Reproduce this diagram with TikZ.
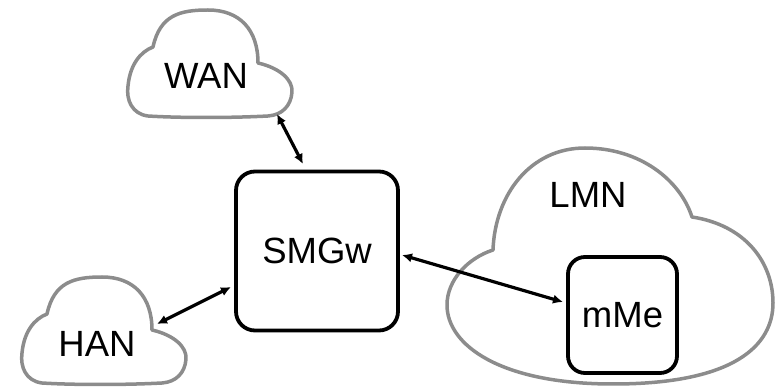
\documentclass[tikz,border=0pt]{standalone}
\usepackage{fontspec}
\setmainfont{Liberation Sans}
\usetikzlibrary{arrows.meta}

\definecolor{cloudgray}{RGB}{140,140,140}

\tikzset{
  cloudline/.style={draw=cloudgray, line width=3.5pt, fill=white, line join=round},
  devbox/.style={draw=black, line width=3.8pt, rounded corners=19pt, fill=white,
    inner sep=0pt, font=\fontsize{36.5pt}{40pt}\selectfont},
  label/.style={inner sep=0pt, font=\fontsize{36.5pt}{40pt}\selectfont},
  link/.style={line width=3.2pt, {Latex[length=10pt,width=9.5pt]}-{Latex[length=10pt,width=9.5pt]}},
  smallcloud/.pic={
    \path[cloudline] (25,37)
      .. controls (32,5) and (52,0) .. (80,0)
      .. controls (112,0) and (130,20) .. (130,53)
      .. controls (152,58) and (165,70) .. (164,82)
      .. controls (163,96) and (154,105) .. (140,106)
      .. controls (102,108) and (52,108) .. (20,106)
      .. controls (4,104) and (-2,90) .. (0,76)
      .. controls (2,55) and (12,42) .. (25,37) -- cycle;
  }
}

\begin{document}
\begin{tikzpicture}[x=1pt, y=-1pt]
  \useasboundingbox (0,0) rectangle (780,387);

  % wide area and home area networks
  \pic at (128,10) {smallcloud};
  \pic at (22,277) {smallcloud};
  \node[label] (wan) at (206,76) {WAN};
  \node[label] (han) at (97,344) {HAN};

  % local metrological network
  \path[cloudline] (493,250)
    .. controls (495,195) and (530,148) .. (585,148)
    .. controls (640,148) and (680,180) .. (692,217)
    .. controls (745,225) and (773,262) .. (773,303)
    .. controls (773,345) and (735,384) .. (613,384)
    .. controls (500,384) and (447,345) .. (447,305)
    .. controls (447,280) and (468,258) .. (493,250) -- cycle;
  \node[label] (lmn) at (588,195) {LMN};

  % devices
  \node[devbox, minimum width=162pt, minimum height=159pt] (smgw) at (317,251) {SMGw};
  \node[devbox, rounded corners=17pt, minimum width=109pt, minimum height=116pt] (mme) at (622.5,315) {mMe};

  % connector end points next to the clouds and boxes
  \coordinate (wanend) at (277,114);
  \coordinate (smgwtop) at (303,164);
  \coordinate (hanend) at (157,324);
  \coordinate (smgwleft) at (231,287);
  \coordinate (smgwright) at (402,255);
  \coordinate (mmeleft) at (563,302);

  \draw[link] (wanend) -- (smgwtop);
  \draw[link] (hanend) -- (smgwleft);
  \draw[link] (smgwright) -- (mmeleft);
\end{tikzpicture}
\end{document}
